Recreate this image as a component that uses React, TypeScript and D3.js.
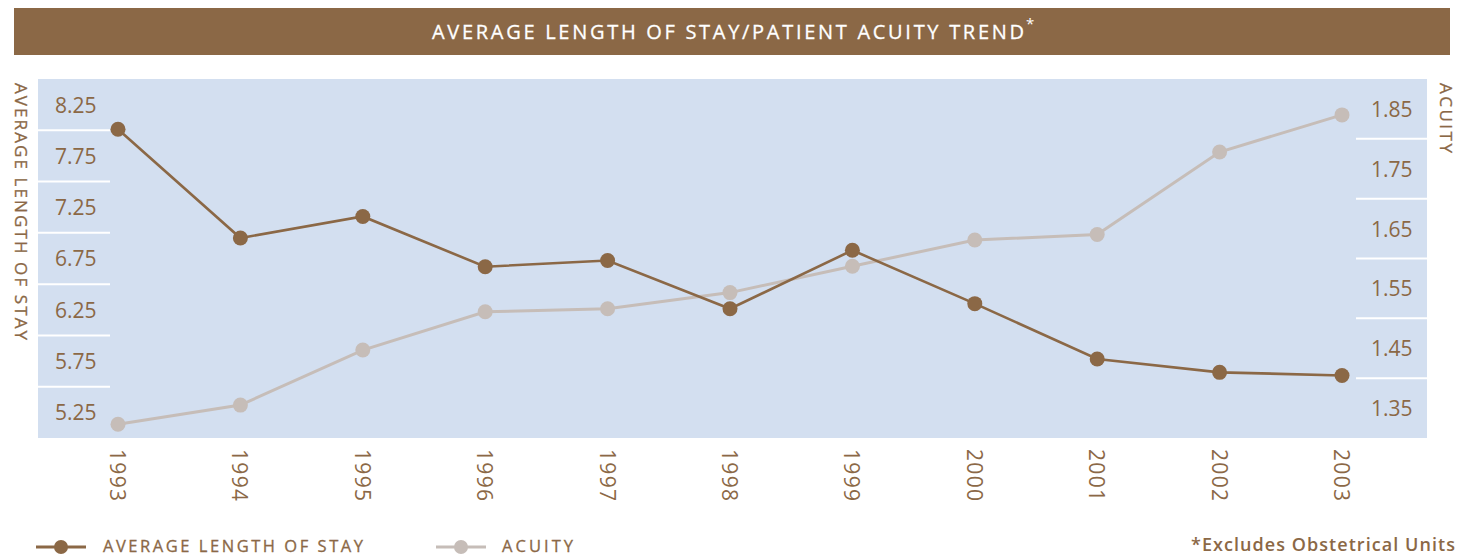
import React from 'react';
import * as d3 from 'd3';

const years = [1993, 1994, 1995, 1996, 1997, 1998, 1999, 2000, 2001, 2002, 2003];
const alosValues = [8.01, 6.95, 7.16, 6.67, 6.73, 6.26, 6.83, 6.31, 5.77, 5.64, 5.61];
const acuityValues = [1.323, 1.355, 1.447, 1.511, 1.516, 1.543, 1.587, 1.631, 1.64, 1.778, 1.84];
const leftLabels = ['8.25', '7.75', '7.25', '6.75', '6.25', '5.75', '5.25'];
const leftLines = [8.0, 7.5, 7.0, 6.5, 6.0, 5.5];
const rightLabels = ['1.85', '1.75', '1.65', '1.55', '1.45', '1.35'];
const rightLines = [1.8, 1.7, 1.6, 1.5, 1.4];

const BROWN = '#8B6846';
const GREY = '#C6BDB8';
const BG = '#D3DFF0';
const FONT = '"Open Sans", "Noto Sans", sans-serif';

const W = 1477;
const H = 557;
const plot = { left: 38, right: 1427, top: 79, bottom: 438 };

export default function App() {
  const x = d3.scaleLinear().domain([1993, 2003]).range([118, 1342]);
  const yL = d3.scaleLinear().domain([5.0, 8.5]).range([plot.bottom, plot.top]);
  const yR = d3.scaleLinear().domain([1.3, 1.9]).range([plot.bottom, plot.top]);

  const alosLine = d3.line<number>()
    .x((_, i) => x(years[i]))
    .y(d => yL(d));
  const acuityLine = d3.line<number>()
    .x((_, i) => x(years[i]))
    .y(d => yR(d));

  return (
    <svg width={W} height={H} style={{ position: 'absolute', left: 0, top: 0 }} fontFamily={FONT}>
      {/* title bar */}
      <rect x={14} y={8} width={1436} height={47} fill={BROWN} />
      <text x={432} y={39} fill="#fff" fontSize={20} textLength={592} lengthAdjust="spacing"
        stroke="#fff" strokeWidth={0.3}>
        AVERAGE LENGTH OF STAY/PATIENT ACUITY TREND
      </text>
      <text x={1026} y={29} fill="#fff" fontSize={15}>*</text>

      {/* plot background */}
      <rect x={plot.left} y={plot.top} width={plot.right - plot.left} height={plot.bottom - plot.top} fill={BG} />

      {/* left axis */}
      {leftLines.map(v => (
        <line key={'l' + v} x1={plot.left} x2={110} y1={yL(v)} y2={yL(v)} stroke="#fff" strokeWidth={2} />
      ))}
      {leftLabels.map(l => (
        <text key={l} x={55} y={yL(+l)} dy="0.38em" fill={BROWN} fontSize={21}>{l}</text>
      ))}

      {/* right axis */}
      {rightLines.map(v => (
        <line key={'r' + v} x1={1356} x2={plot.right} y1={yR(v)} y2={yR(v)} stroke="#fff" strokeWidth={2} />
      ))}
      {rightLabels.map(l => (
        <text key={l} x={1371} y={yR(+l)} dy="0.38em" fill={BROWN} fontSize={21}>{l}</text>
      ))}

      {/* axis titles */}
      <text transform="translate(13,83) rotate(90)" fill={BROWN} fontSize={17}
        stroke={BROWN} strokeWidth={0.3}
        textLength={257} lengthAdjust="spacing" dy="-0.1em">
        AVERAGE LENGTH OF STAY
      </text>
      <text transform="translate(1438,83) rotate(90)" fill={BROWN} fontSize={17}
        stroke={BROWN} strokeWidth={0.3}
        textLength={70} lengthAdjust="spacing" dy="-0.1em">
        ACUITY
      </text>

      {/* series */}
      <path d={acuityLine(acuityValues) || ''} fill="none" stroke={GREY} strokeWidth={3} />
      {acuityValues.map((v, i) => (
        <circle key={'a' + i} cx={x(years[i])} cy={yR(v)} r={7.5} fill={GREY} />
      ))}
      <path d={alosLine(alosValues) || ''} fill="none" stroke={BROWN} strokeWidth={2.6} />
      {alosValues.map((v, i) => (
        <circle key={'s' + i} cx={x(years[i])} cy={yL(v)} r={7.5} fill={BROWN} />
      ))}

      {/* year labels */}
      {years.map(yr => (
        <text key={yr} transform={`translate(${x(yr) - 8},449) rotate(90)`} fill={BROWN} fontSize={21}
          textLength={52} lengthAdjust="spacing">
          {yr}
        </text>
      ))}

      {/* legend */}
      <line x1={36} x2={86} y1={547} y2={547} stroke={BROWN} strokeWidth={3} />
      <circle cx={61} cy={547} r={7} fill={BROWN} />
      <text x={103} y={552} fill={BROWN} fontSize={16.5} stroke={BROWN} strokeWidth={0.3}
        textLength={260} lengthAdjust="spacing">
        AVERAGE LENGTH OF STAY
      </text>
      <line x1={436} x2={486} y1={547} y2={547} stroke={GREY} strokeWidth={3} />
      <circle cx={461} cy={547} r={7} fill={GREY} />
      <text x={502} y={552} fill={BROWN} fontSize={16.5} stroke={BROWN} strokeWidth={0.3}
        textLength={71} lengthAdjust="spacing">
        ACUITY
      </text>

      <text x={1455} y={551} textAnchor="end" fill={BROWN} fontSize={18} fontWeight={600}
        textLength={264} lengthAdjust="spacing">
        *Excludes Obstetrical Units
      </text>
    </svg>
  );
}
